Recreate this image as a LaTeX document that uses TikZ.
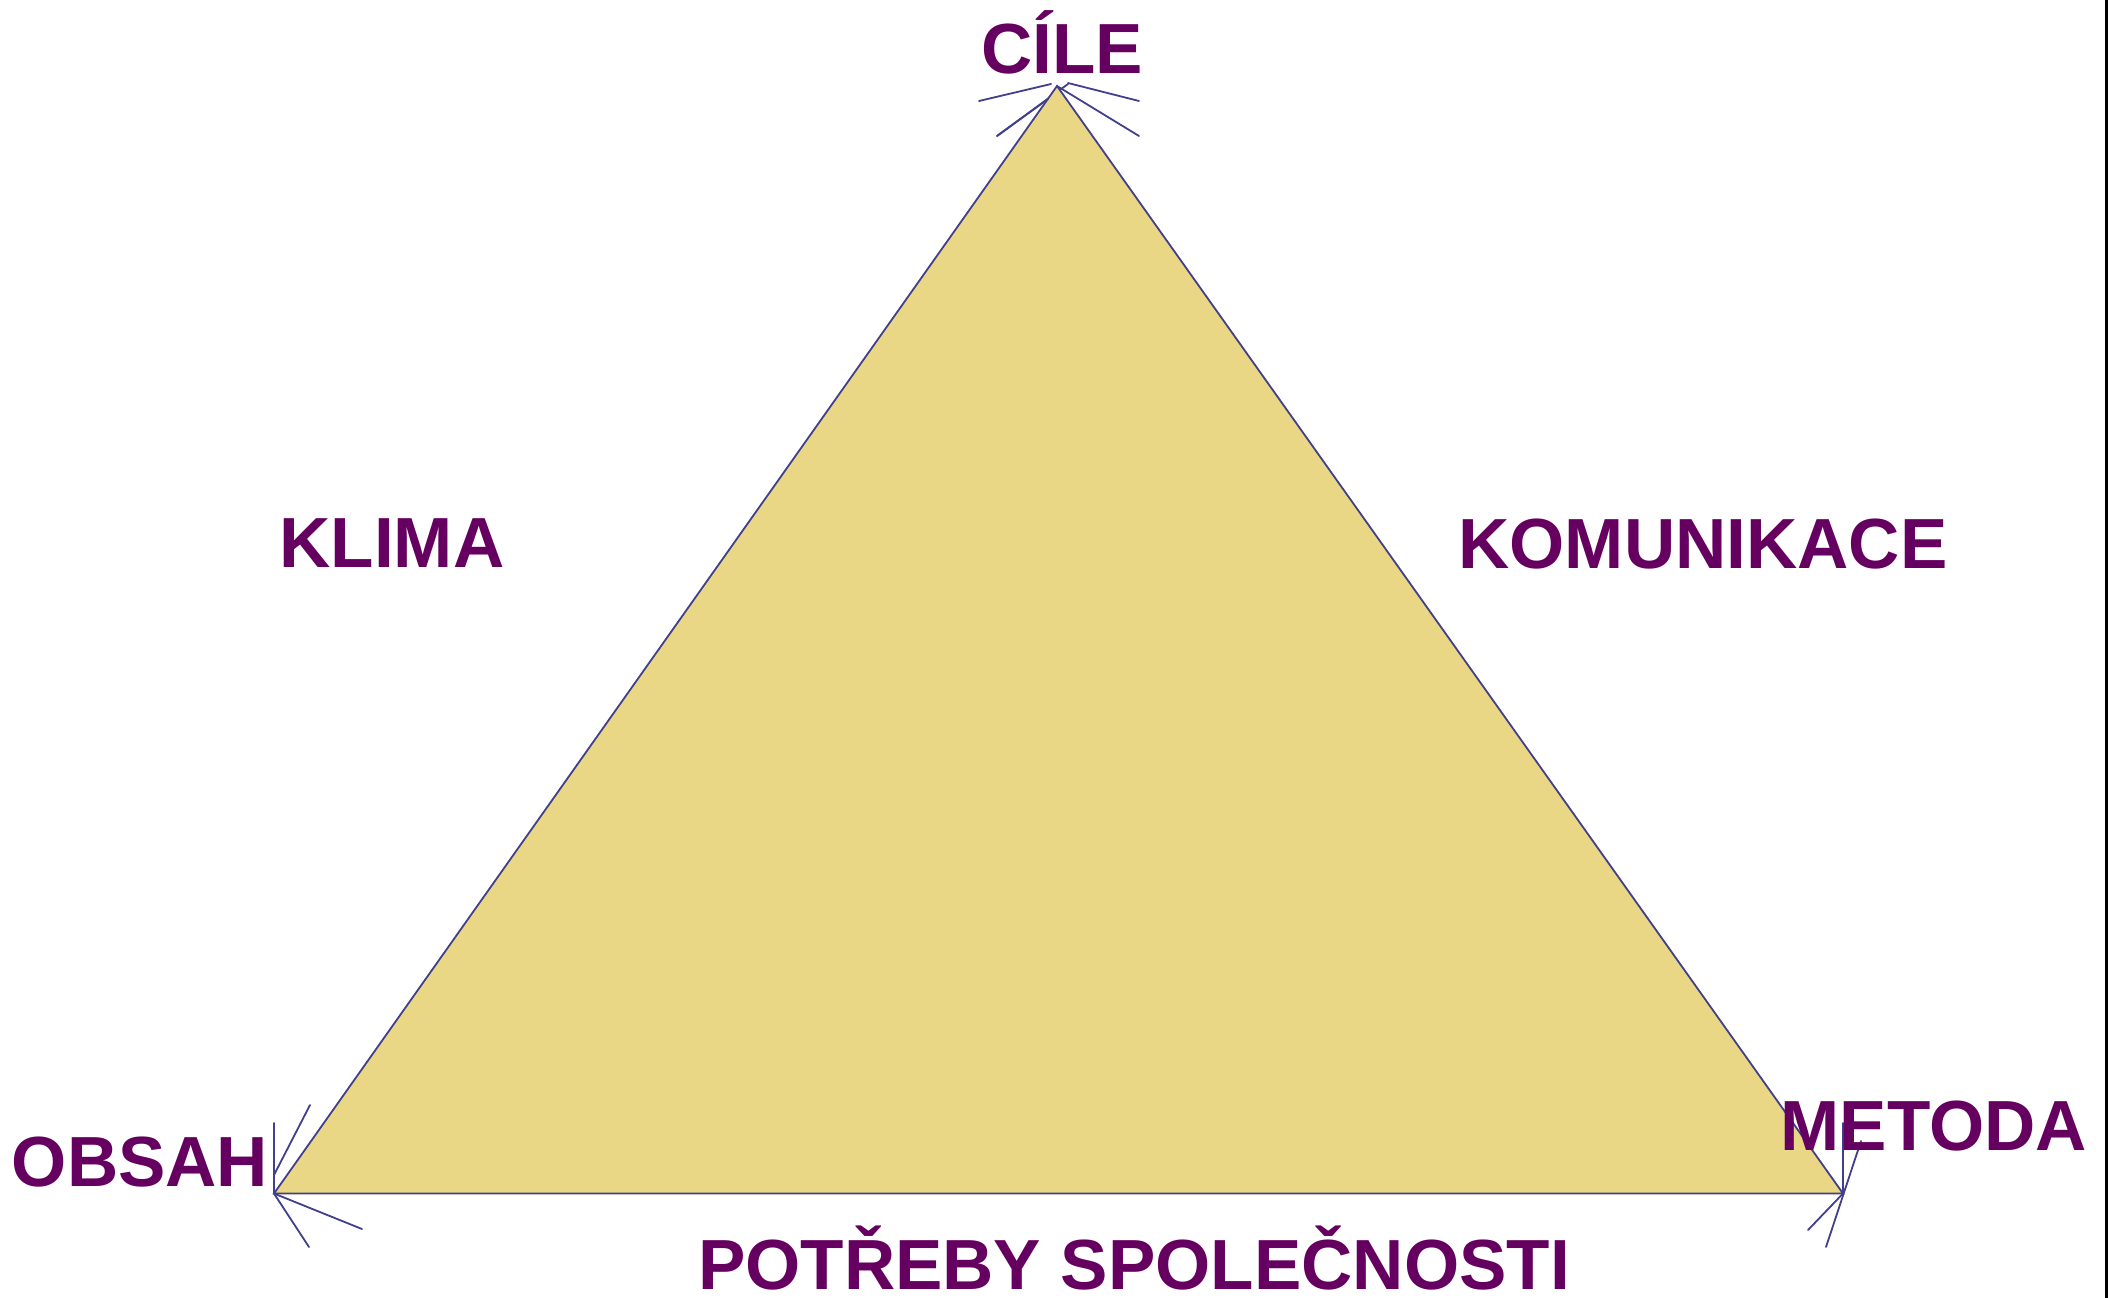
\documentclass[tikz,border=0pt]{standalone}
\usepackage{fontspec}
\setmainfont{Liberation Sans}
\definecolor{labelpurple}{RGB}{102,0,96}
\definecolor{edgeblue}{RGB}{64,64,140}
\definecolor{trifill}{RGB}{234,215,133}
\tikzset{
  lbl/.style={font=\fontsize{71}{80}\selectfont\bfseries, text=labelpurple, inner sep=0pt, anchor=base},
  edge/.style={draw=edgeblue, line width=1.8pt},
  barb/.style={draw=edgeblue, line width=1.8pt, line cap=round}
}
\begin{document}
\begin{tikzpicture}[x=1pt,y=-1pt]
\useasboundingbox (0,0) rectangle (2112,1298);
\fill[white] (0,0) rectangle (2112,1298);
% vertices
\coordinate (A) at (1057,86);
\coordinate (B) at (274,1193.5);
\coordinate (C) at (1843,1193.5);
% hidden part of a barb under the triangle
\draw[barb] (997,136) -- (1068,84);
\fill[trifill] (A) -- (B) -- (C) -- cycle;
\draw[edge, line join=miter] (A) -- (B) -- (C) -- cycle;
% apex barbs
\coordinate (a1) at (979,101);
\coordinate (a2) at (997,136);
\coordinate (a3) at (1139,101);
\coordinate (a4) at (1139,136);
\coordinate (a5) at (1068,83);
\coordinate (a6) at (1051,84);
\coordinate (a7) at (1048,99);
\draw[barb] (a1) -- (a6);
\draw[barb] (a2) -- (a7);
\draw[barb] (a5) -- (a3);
\draw[barb] (A) -- (a4);
% bottom-left barbs
\coordinate (b1) at (274,1123);
\coordinate (b2) at (310,1105);
\coordinate (b2s) at (274,1175);
\coordinate (b3) at (362,1229);
\coordinate (b4) at (309,1247);
\draw[barb] (B) -- (b1);
\draw[barb] (b2s) -- (b2);
\draw[barb] (B) -- (b3);
\draw[barb] (B) -- (b4);
% bottom-right barbs
\coordinate (c1) at (1843,1123);
\coordinate (c2) at (1861,1141);
\coordinate (c3) at (1826,1247);
\coordinate (c4) at (1808,1230);
\draw[barb] (C) -- (c1);
\draw[barb] (c2) -- (c3);
\draw[barb] (C) -- (c4);
% labels
\node[lbl] (cile) at (1062,74) {CÍLE};
\node[lbl] (klima) at (392,567) {KLIMA};
\node[lbl] (komunikace) at (1703,568) {KOMUNIKACE};
\node[lbl] (obsah) at (140,1186) {OBSAH};
\node[lbl] (metoda) at (1934,1150) {METODA};
\node[lbl] (potreby) at (1134,1289) {POTŘEBY SPOLEČNOSTI};
% right border
\draw[black, line width=3pt] (2106.5,0) -- (2106.5,1298);
\end{tikzpicture}
\end{document}
